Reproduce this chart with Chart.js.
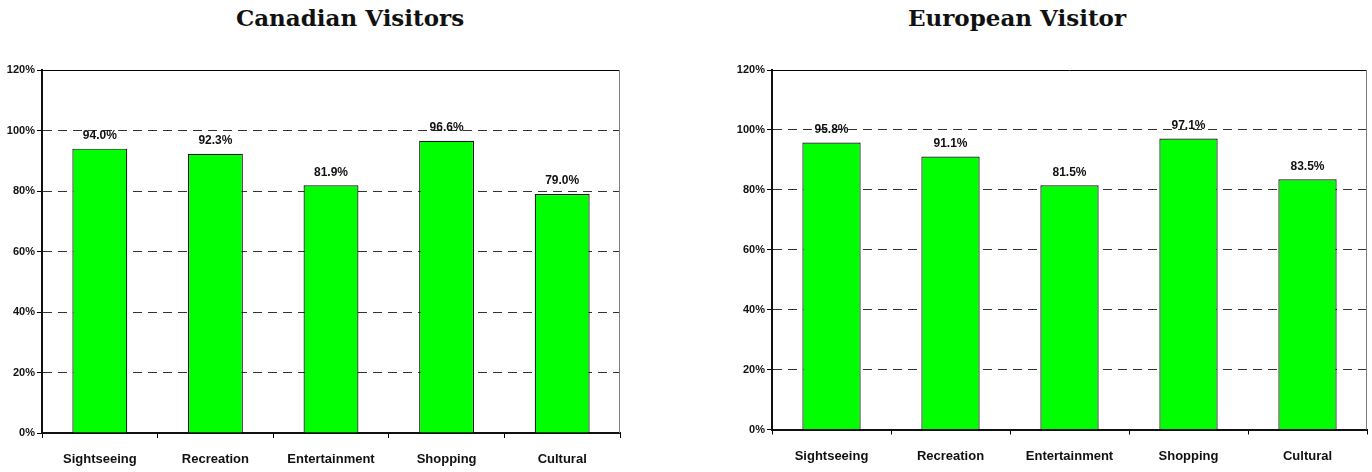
<!DOCTYPE html>
<html lang="en">
  <head>
    <meta charset="UTF-8" />
    <title>Visitors activities</title>
    <script src="https://cdn.jsdelivr.net/npm/chart.js@4.4.0/dist/chart.umd.min.js"></script>
    <style>
      body { margin: 0; background: #fff; width: 1372px; height: 472px; position: relative; overflow: hidden; }
      .title { position: absolute; top: 4px; font-family: "DejaVu Serif", "Liberation Serif", serif; font-weight: bold; font-size: 23px; color: #111; transform: translateX(-50%); white-space: nowrap; }
      canvas { position: absolute; top: 0; }
    </style>
  </head>
  <body>
    <div class="title" style="left: 350px">Canadian Visitors</div>
    <div class="title" style="left: 1017px">European Visitor</div>
    <canvas id="canadaChart" width="686" height="472" style="left: 0"></canvas>
    <canvas id="europeChart" width="686" height="472" style="left: 686px"></canvas>
    <script>
      const categories = ["Sightseeing", "Recreation", "Entertainment", "Shopping", "Cultural"];
      const canadianValues = [94.0, 92.3, 81.9, 96.6, 79.0];
      const europeanValues = [95.8, 91.1, 81.5, 97.1, 83.5];
      const yMax = 120;
      const yStep = 20;

      const FONT = "'Liberation Sans', Arial, sans-serif";

      // value labels above bars + top/right frame lines
      const extras = {
        id: "extras",
        afterDatasetsDraw(chart) {
          const { ctx, chartArea } = chart;
          ctx.save();
          ctx.strokeStyle = "#000";
          ctx.lineWidth = 1;
          ctx.beginPath();
          ctx.moveTo(chartArea.left, chartArea.top + 0.5);
          ctx.lineTo(chartArea.right, chartArea.top + 0.5);
          ctx.stroke();
          ctx.strokeStyle = "#808080";
          ctx.beginPath();
          ctx.moveTo(chartArea.right - 0.5, chartArea.top);
          ctx.lineTo(chartArea.right - 0.5, chartArea.bottom);
          ctx.stroke();

          ctx.fillStyle = "#111";
          ctx.font = "bold 12px " + FONT;
          ctx.textAlign = "center";
          ctx.textBaseline = "middle";
          const meta = chart.getDatasetMeta(0);
          const data = chart.data.datasets[0].data;
          meta.data.forEach(function (bar, i) {
            ctx.fillText(data[i].toFixed(1) + "%", bar.x, bar.y - 13);
          });
          ctx.restore();
        },
      };

      function makeChart(id, values, cfg) {
        const ctx = document.getElementById(id).getContext("2d");
        return new Chart(ctx, {
          type: "bar",
          data: {
            labels: categories,
            datasets: [
              {
                data: values,
                backgroundColor: "#00ff00",
                borderColor: "#111",
                borderWidth: 1.2,
                barPercentage: cfg.barPct,
                categoryPercentage: 1,
              },
            ],
          },
          options: {
            responsive: false,
            animation: false,
            layout: { padding: { top: 70, left: cfg.padLeft, right: cfg.padRight, bottom: 0 } },
            plugins: { legend: { display: false }, tooltip: { enabled: false } },
            scales: {
              x: {
                afterFit: function (s) { s.height = cfg.xHeight; },
                grid: { display: true, offset: true, drawOnChartArea: false, drawTicks: true, tickLength: 5, tickColor: "#000" },
                border: { display: true, color: "#111", width: 2 },
                ticks: { color: "#111", padding: 14, font: { family: FONT, size: 13, weight: "bold" } },
              },
              y: {
                min: 0,
                max: yMax,
                afterFit: function (s) { s.width = 42; },
                grid: { color: "#333", lineWidth: 1, tickLength: 5, tickColor: "#000" },
                border: { display: true, color: "#111", width: 2, dash: [9, 6] },
                ticks: {
                  stepSize: yStep,
                  padding: 2,
                  color: "#111",
                  font: { family: FONT, size: 11, weight: "bold" },
                  callback: function (v) { return v + "%"; },
                },
              },
            },
          },
          plugins: [extras],
        });
      }

      makeChart("canadaChart", canadianValues, { barPct: 0.475, padLeft: 0, padRight: 66, xHeight: 39 });
      makeChart("europeChart", europeanValues, { barPct: 0.49, padLeft: 44, padRight: 5, xHeight: 42.5 });
    </script>
  </body>
</html>
